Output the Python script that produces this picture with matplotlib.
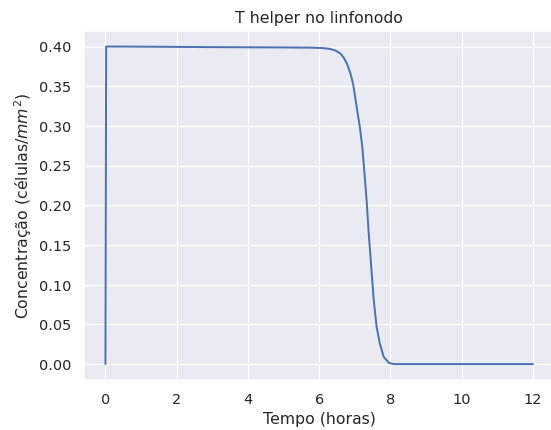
import matplotlib
matplotlib.use("Agg")
import matplotlib.pyplot as plt
import seaborn as sns

sns.set_theme(style="darkgrid")
plt.rcParams['font.family'] = ['DejaVu Sans']

# Time (hours) and T helper concentration
tempo = [0.0, 0.02, 0.05, 1.0, 2.0, 3.0, 4.0, 5.0, 5.8, 6.1, 6.3, 6.45,
         6.6, 6.7, 6.78, 6.87, 6.95, 7.05, 7.14, 7.21, 7.27, 7.33, 7.39,
         7.46, 7.53, 7.61, 7.70, 7.81, 7.95, 8.05, 8.14, 9.0, 10.0, 11.0,
         12.0]
conc = [0.0, 0.40, 0.400, 0.3998, 0.3995, 0.3992, 0.3990, 0.3988, 0.3985,
        0.3980, 0.3970, 0.3950, 0.391, 0.385, 0.378, 0.367, 0.353, 0.324,
        0.2985, 0.273, 0.240, 0.206, 0.164, 0.122, 0.0805, 0.047, 0.026,
        0.009, 0.0017, 0.0004, 0.0, 0.0, 0.0, 0.0, 0.0]
xticks = [0, 2, 4, 6, 8, 10, 12]
yticks = [0.0, 0.05, 0.10, 0.15, 0.20, 0.25, 0.30, 0.35, 0.40]
ylabels = ["0.00", "0.05", "0.10", "0.15", "0.20", "0.25", "0.30", "0.35", "0.40"]

DPI = 94.5
fig = plt.figure(figsize=(551.4 / DPI, 430.4 / DPI), dpi=DPI)
ax = fig.add_axes([84 / 551, 50 / 430, 470 / 551, 349 / 430])
ax.plot(tempo, conc, color='#4c72b0', linewidth=1.5)
ax.set_title("T helper no linfonodo", fontsize=12)
ax.set_xlabel("Tempo (horas)", fontsize=12)
ax.set_ylabel("Concentração (células/$mm^2$)", fontsize=12)
ax.set_xticks(xticks)
ax.set_yticks(yticks)
ax.set_yticklabels(ylabels)
ax.tick_params(labelsize=11)
ax.set_xlim(-0.6, 12.6)
ax.set_ylim(-0.02, 0.42)
fig.savefig("out.png", dpi=DPI)
